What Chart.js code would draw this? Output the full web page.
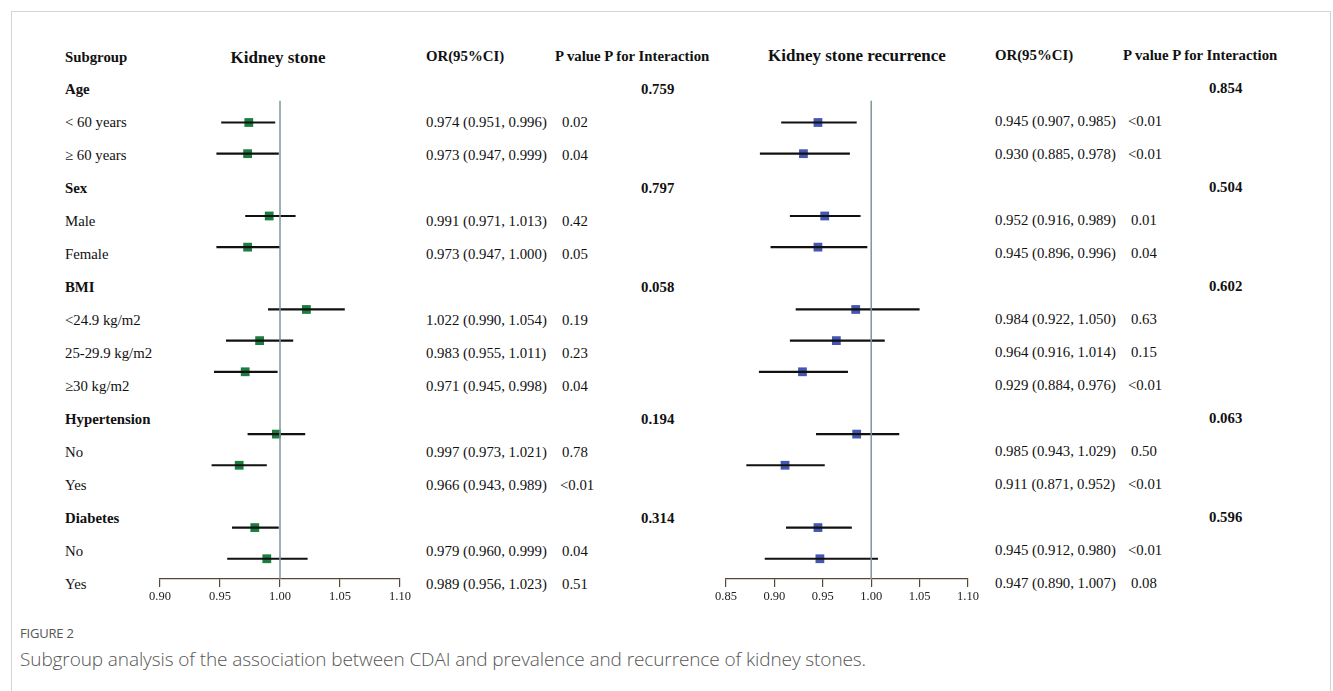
<!DOCTYPE html>
<html>
<head>
<meta charset="utf-8">
<script src="https://cdn.jsdelivr.net/npm/chart.js@4.4.1/dist/chart.umd.min.js"></script>
<style>
  body { margin: 0; background: #fff; width: 1333px; height: 691px; position: relative; overflow: hidden; }
  .frame { position: absolute; left: 11px; top: 11px; width: 1318px; height: 700px; border: 1px solid #d4d4d4; }
  .t { position: absolute; font-family: "Liberation Serif", "Times New Roman", serif; font-size: 14.8px; color: #111; line-height: 17px; white-space: nowrap; transform: translateY(-50%); }
  .b { font-weight: bold; }
  .h { font-size: 17px; line-height: 19px; }
  .c { transform: translate(-50%, -50%); }
  .cv { position: absolute; }
  .fig { position: absolute; left: 20px; font-family: "Open Sans", "Noto Sans", sans-serif; color: #555; white-space: nowrap; }
</style>
</head>
<body>
<div class="frame"></div>
<div id="texts"></div>
<div class="cv" style="left:140px; top:72px; width:280px; height:537px;"><canvas id="graficoStone"></canvas></div>
<div class="cv" style="left:706px; top:72px; width:282px; height:537px;"><canvas id="graficoRecurrence"></canvas></div>
<div class="fig" style="top:624px; font-size:13px; letter-spacing:-0.2px;">FIGURE 2</div>
<div class="fig" style="top:646px; font-size:19px; font-weight:300; letter-spacing:-0.1px;">Subgroup analysis of the association between CDAI and prevalence and recurrence of kidney stones.</div>
<script>
// filas del forest plot
const subgrupos = ["Age", "< 60 years", "\u2265 60 years", "Sex", "Male", "Female", "BMI", "<24.9 kg/m2", "25-29.9 kg/m2", "\u226530 kg/m2", "Hypertension", "No", "Yes", "Diabetes", "No", "Yes"];
const esTitulo = [true, false, false, true, false, false, true, false, false, false, true, false, false, true, false, false];

// Kidney stone
const orPiedra = [null, 0.974, 0.973, null, 0.991, 0.973, null, 1.022, 0.983, 0.971, null, 0.997, 0.966, null, 0.979, 0.989];
const bajoPiedra = [null, 0.951, 0.947, null, 0.971, 0.947, null, 0.990, 0.955, 0.945, null, 0.973, 0.943, null, 0.960, 0.956];
const altoPiedra = [null, 0.996, 0.999, null, 1.013, 1.000, null, 1.054, 1.011, 0.998, null, 1.021, 0.989, null, 0.999, 1.023];
const pPiedra = [null, "0.02", "0.04", null, "0.42", "0.05", null, "0.19", "0.23", "0.04", null, "0.78", "<0.01", null, "0.04", "0.51"];
const pInterPiedra = ["0.759", null, null, "0.797", null, null, "0.058", null, null, null, "0.194", null, null, "0.314", null, null];

// Kidney stone recurrence
const orRecurrencia = [null, 0.945, 0.930, null, 0.952, 0.945, null, 0.984, 0.964, 0.929, null, 0.985, 0.911, null, 0.945, 0.947];
const bajoRecurrencia = [null, 0.907, 0.885, null, 0.916, 0.896, null, 0.922, 0.916, 0.884, null, 0.943, 0.871, null, 0.912, 0.890];
const altoRecurrencia = [null, 0.985, 0.978, null, 0.989, 0.996, null, 1.050, 1.014, 0.976, null, 1.029, 0.952, null, 0.980, 1.007];
const pRecurrencia = [null, "<0.01", "<0.01", null, "0.01", "0.04", null, "0.63", "0.15", "<0.01", null, "0.50", "<0.01", null, "<0.01", "0.08"];
const pInterRecurrencia = ["0.854", null, null, "0.504", null, null, "0.602", null, null, null, "0.063", null, null, "0.596", null, null];

const ticksPiedra = [0.90, 0.95, 1.00, 1.05, 1.10];
const ticksRecurrencia = [0.85, 0.90, 0.95, 1.00, 1.05, 1.10];

function formatoOR(o, l, h) {
    return o.toFixed(3) + " (" + l.toFixed(3) + ", " + h.toFixed(3) + ")";
}

function ponerTexto(txt, x, y, clases) {
    const d = document.createElement("div");
    d.className = "t " + (clases || "");
    d.style.left = x + "px";
    d.style.top = y + "px";
    d.textContent = txt;
    document.getElementById("texts").appendChild(d);
}

// columnas de texto
ponerTexto("Subgroup", 65, 57, "b");
ponerTexto("Kidney stone", 278, 57, "b h c");
ponerTexto("OR(95%CI)", 426, 56, "b");
ponerTexto("P value P for Interaction", 555, 56, "b");
ponerTexto("Kidney stone recurrence", 857, 55, "b h c");
ponerTexto("OR(95%CI)", 995, 55, "b");
ponerTexto("P value P for Interaction", 1123, 55, "b");

subgrupos.forEach(function (s, i) {
    const yL = 89 + i * 33;
    const yR = 88 + i * 33;
    ponerTexto(s, 65, yL, esTitulo[i] ? "b" : "");
    if (orPiedra[i] !== null) {
        ponerTexto(formatoOR(orPiedra[i], bajoPiedra[i], altoPiedra[i]), 426, yL);
        ponerTexto(pPiedra[i], pPiedra[i][0] === "<" ? 560 : 562, yL);
    }
    if (pInterPiedra[i]) ponerTexto(pInterPiedra[i], 641, yL, "b");
    if (orRecurrencia[i] !== null) {
        ponerTexto(formatoOR(orRecurrencia[i], bajoRecurrencia[i], altoRecurrencia[i]), 995, yR);
        ponerTexto(pRecurrencia[i], pRecurrencia[i][0] === "<" ? 1128 : 1131, yR);
    }
    if (pInterRecurrencia[i]) ponerTexto(pInterRecurrencia[i], 1209, yR, "b");
});

function renderizarForest(id, ors, bajos, altos, ticks, colorPunto) {
    const datasets = [];
    // linea de referencia OR = 1
    datasets.push({
        data: [{ x: 1, y: 0.3 }, { x: 1, y: 15.65 }],
        showLine: true, borderColor: "#7c9898", borderWidth: 1.5, pointRadius: 0
    });
    ors.forEach(function (o, i) {
        if (o === null) return;
        datasets.push({
            data: [{ x: bajos[i], y: i }, { x: altos[i], y: i }],
            showLine: true, borderColor: "#111", borderWidth: 2.2, pointRadius: 0
        });
    });
    const puntos = [];
    ors.forEach(function (o, i) { if (o !== null) puntos.push({ x: o, y: i }); });
    datasets.push({
        data: puntos, pointStyle: "rect", pointRadius: 6.2,
        backgroundColor: colorPunto, borderColor: colorPunto, borderWidth: 0
    });

    new Chart(document.getElementById(id).getContext("2d"), {
        type: "scatter",
        data: { datasets: datasets },
        options: {
            responsive: true,
            maintainAspectRatio: false,
            animation: false,
            layout: { padding: { left: 20, right: 20, top: 10, bottom: 0 } },
            plugins: { legend: { display: false }, tooltip: { enabled: false } },
            scales: {
                y: { display: false, reverse: true, min: -0.3, max: 15.65 },
                x: {
                    min: ticks[0], max: ticks[ticks.length - 1],
                    afterBuildTicks: function (s) { s.ticks = ticks.map(function (v) { return { value: v }; }); },
                    afterFit: function (s) { s.height = 30; },
                    grid: { drawOnChartArea: false, drawTicks: true, tickLength: 8, color: "#5a4634", lineWidth: 1.2 },
                    border: { display: true, color: "#5a4634", width: 1.2 },
                    ticks: {
                        padding: 2, color: "#222", maxRotation: 0, autoSkip: false,
                        font: { family: "Liberation Serif", size: 12.5 },
                        callback: function (v) { return Number(v).toFixed(2); }
                    }
                }
            }
        }
    });
}

renderizarForest("graficoStone", orPiedra, bajoPiedra, altoPiedra, ticksPiedra, "#1b7d3e");
renderizarForest("graficoRecurrence", orRecurrencia, bajoRecurrencia, altoRecurrencia, ticksRecurrencia, "#4356b0");
</script>
</body>
</html>
